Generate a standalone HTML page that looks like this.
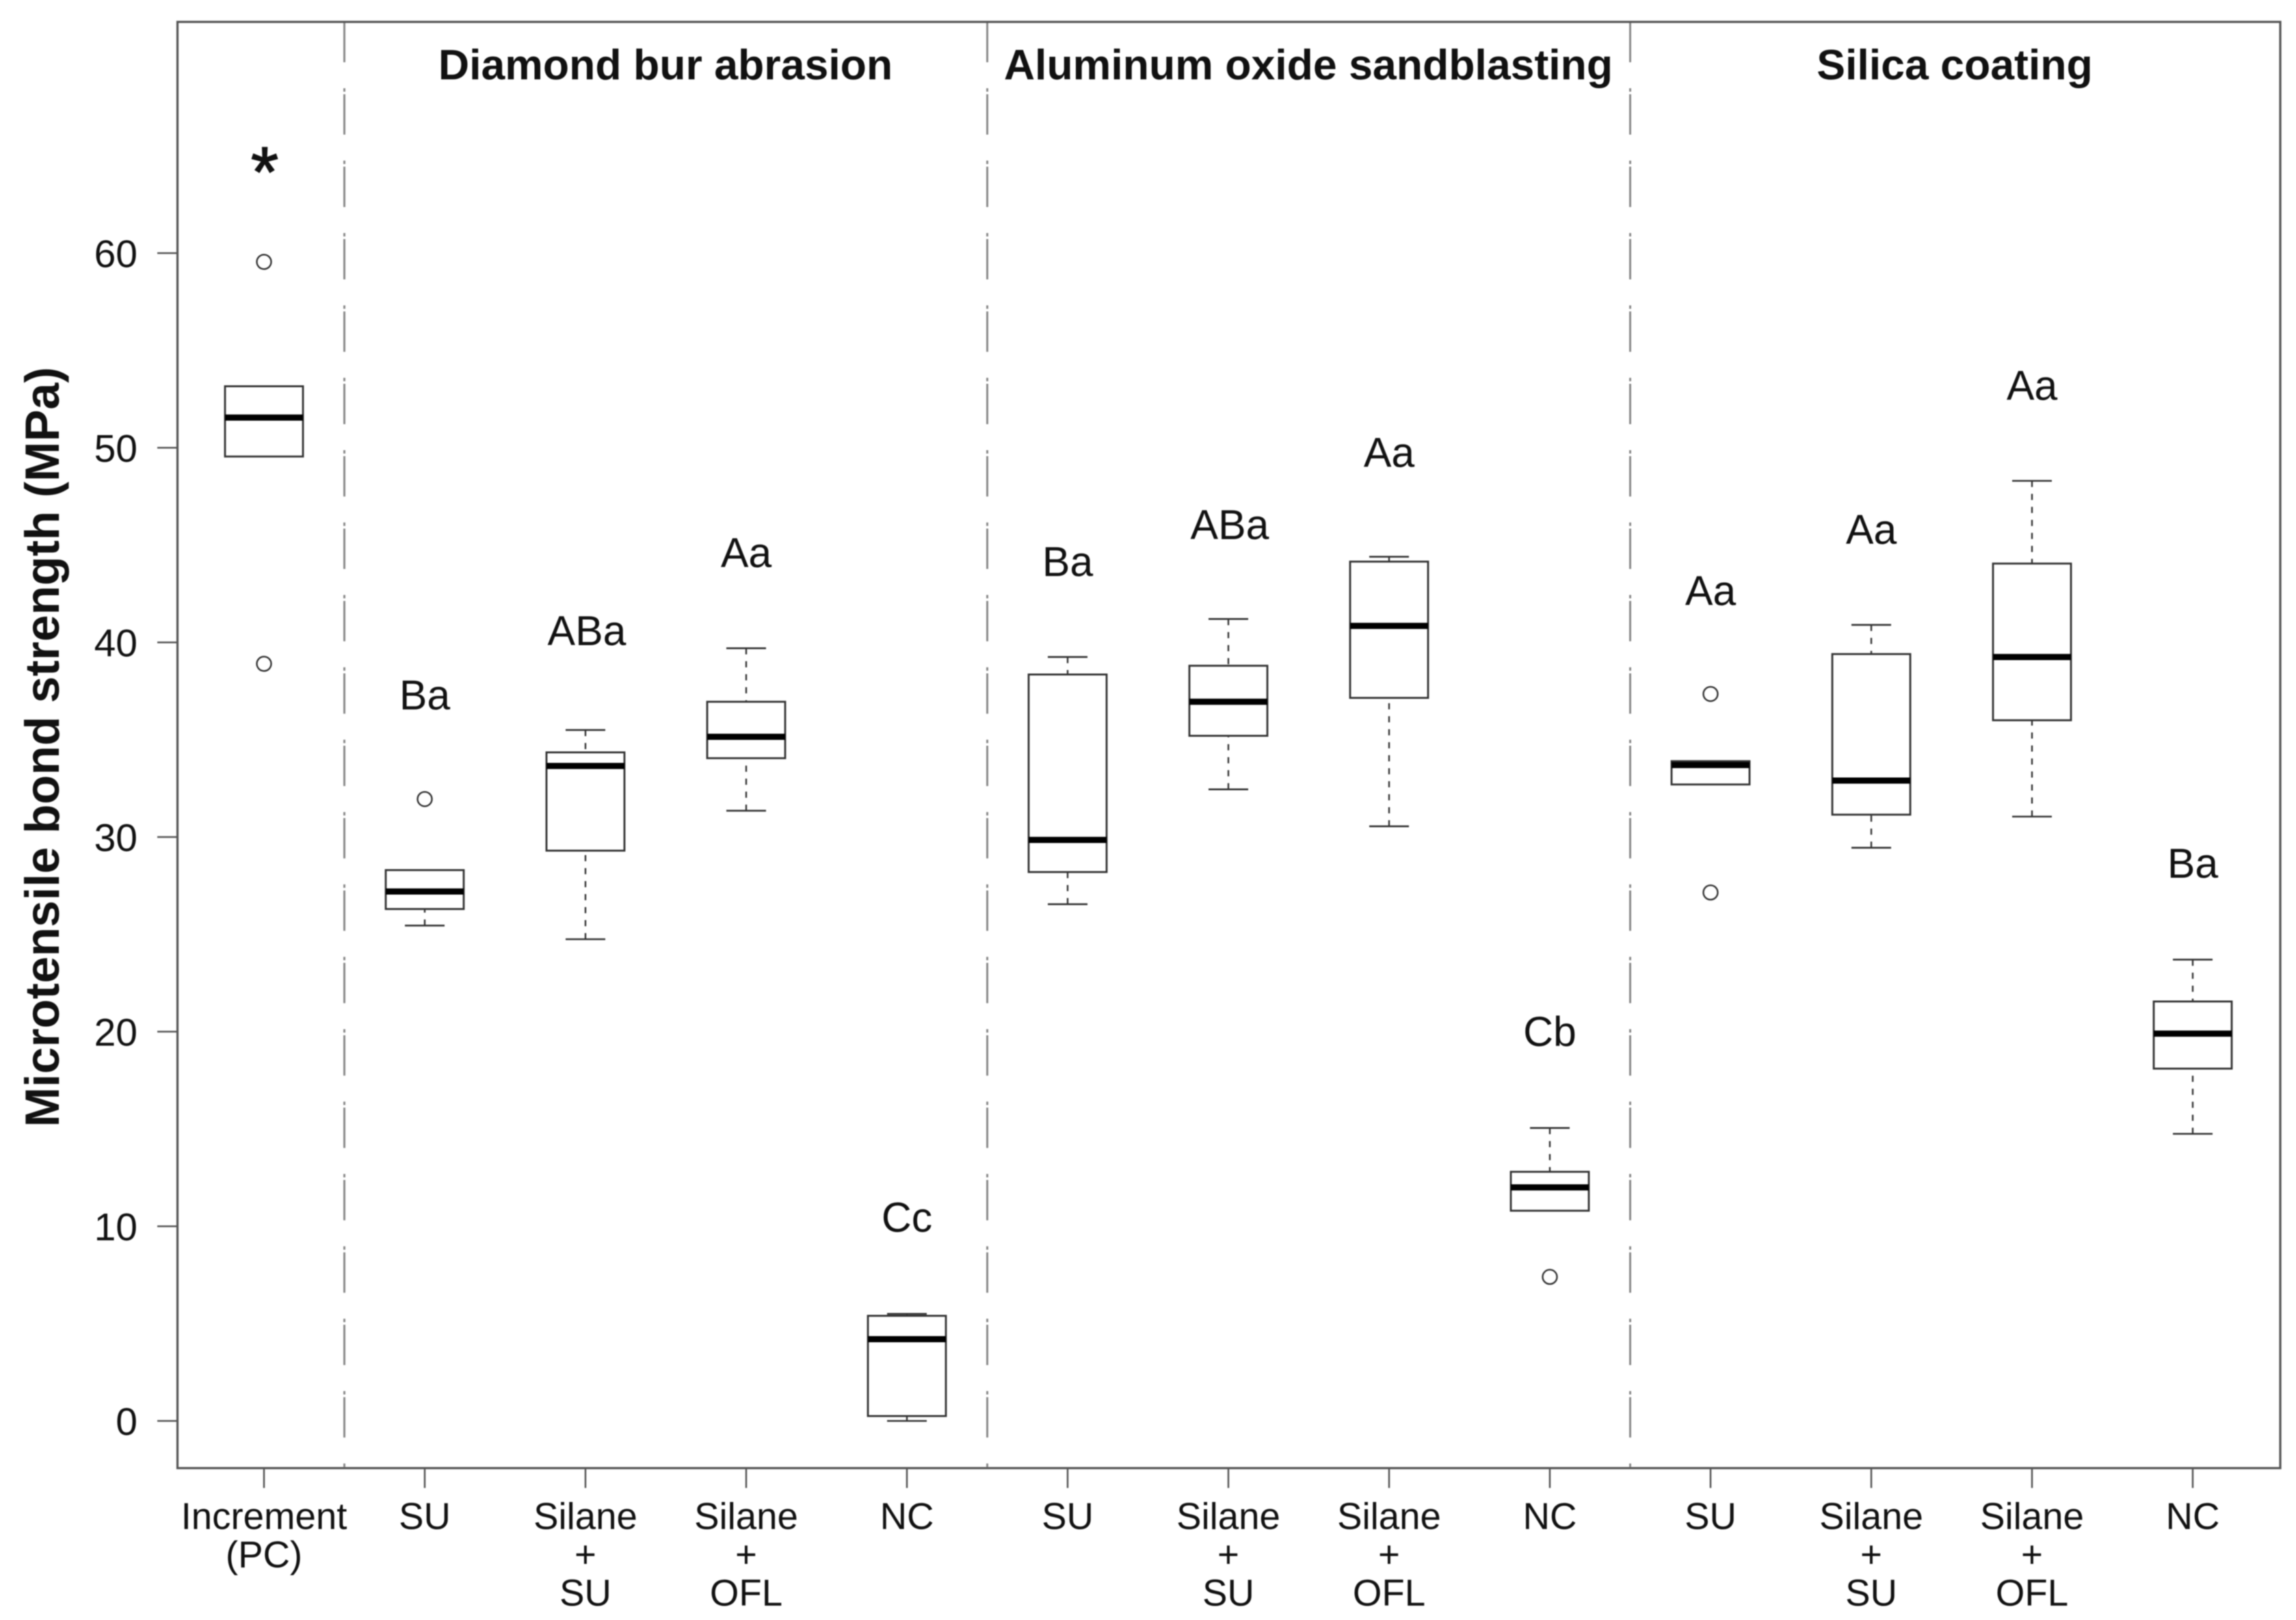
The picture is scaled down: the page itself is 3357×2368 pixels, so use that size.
<!DOCTYPE html>
<html lang="en">
<head>
<meta charset="utf-8">
<title>Microtensile bond strength boxplot</title>
<style>
html,body{margin:0;padding:0;background:#fff;}
svg{display:block;filter:blur(0.7px);}
text{font-family:"Liberation Sans",Arial,sans-serif;fill:#111111;}
</style>
</head>
<body>
<svg id="chart" xmlns="http://www.w3.org/2000/svg" width="3357" height="2368" viewBox="0 0 3357 2368">
<rect x="0" y="0" width="3357" height="2368" fill="#ffffff"/>
<text transform="translate(86 1092) rotate(-90)" text-anchor="middle" font-size="70.2" font-weight="700">Microtensile bond strength (MPa)</text>
<text x="973" y="116" text-anchor="middle" font-size="62.6" font-weight="700">Diamond bur abrasion</text>
<text x="1913" y="116" text-anchor="middle" font-size="62.6" font-weight="700">Aluminum oxide sandblasting</text>
<text x="2858" y="116" text-anchor="middle" font-size="62.6" font-weight="700">Silica coating</text>
</svg>
<script>
// ---- chart data ----
const categories = [
  ["Increment", "(PC)"],
  ["SU"], ["Silane", "+", "SU"], ["Silane", "+", "OFL"], ["NC"],
  ["SU"], ["Silane", "+", "SU"], ["Silane", "+", "OFL"], ["NC"],
  ["SU"], ["Silane", "+", "SU"], ["Silane", "+", "OFL"], ["NC"]
];
const q1Values      = [49.55, 26.3, 29.3, 34.05, 0.25, 28.2, 35.2, 37.15, 10.8, 32.7, 31.15, 36.0, 18.1];
const medianValues  = [51.55, 27.2, 33.65, 35.15, 4.2, 29.85, 36.95, 40.85, 12.0, 33.7, 32.9, 39.25, 19.9];
const q3Values      = [53.16, 28.3, 34.35, 36.95, 5.4, 38.35, 38.8, 44.15, 12.8, 33.9, 39.4, 44.05, 21.55];
const whiskerLow    = [49.55, 25.45, 24.75, 31.35, 0.0, 26.55, 32.45, 30.55, 10.8, 32.7, 29.45, 31.05, 14.75];
const whiskerHigh   = [53.16, 28.3, 35.5, 39.7, 5.5, 39.25, 41.2, 44.4, 15.05, 33.9, 40.9, 48.3, 23.7];
const outlierValues = [[59.55, 38.9], [31.95], [], [], [], [], [], [], [7.4], [37.35, 27.15], [], [], []];
const significanceLetters = ["", "Ba", "ABa", "Aa", "Cc", "Ba", "ABa", "Aa", "Cb", "Aa", "Aa", "Aa", "Ba"];
const significanceHeights = [0, 37.3, 40.6, 44.6, 10.45, 44.15, 46.05, 49.75, 20.0, 42.65, 45.8, 53.2, 28.65];
const yTickLabels = [0, 10, 20, 30, 40, 50, 60];
const groupDividers = [0.5, 4.5, 8.5];

// ---- axis functions ----
const SVG_NS = "http://www.w3.org/2000/svg";
const svg = document.getElementById("chart");
const plot = {left: 259.5, right: 3334, top: 32, bottom: 2146};
const xAxis = function (index) { return 386 + 235 * index; };
const yAxis = function (value) { return 2077 - 28.45 * value; };
const BOX_W = 114, CAP_W = 58, INK = "#333333", AXIS = "#555555";

function make(tag, attrs) {
  const node = document.createElementNS(SVG_NS, tag);
  for (const key in attrs) node.setAttribute(key, attrs[key]);
  svg.appendChild(node);
  return node;
}
function line(x1, y1, x2, y2, color, width, dash) {
  const node = make("line", {x1: x1, y1: y1, x2: x2, y2: y2, stroke: color, "stroke-width": width});
  if (dash) node.setAttribute("stroke-dasharray", dash);
  return node;
}

// group dividers (long dash + tiny dot)
groupDividers.forEach(function (pos) {
  const el = line(xAxis(pos), plot.top, xAxis(pos), plot.bottom, "#8a8a8a", 3, "59 38 5 3.8");
  
  
});

// plot frame
const frame = make("rect", {x: plot.left, y: plot.top, width: plot.right - plot.left, height: plot.bottom - plot.top, fill: "none", stroke: AXIS, "stroke-width": 3.2});



// y axis
yTickLabels.forEach(function (value) {
  const tick = line(230, yAxis(value), plot.left, yAxis(value), AXIS, 2.5);
  
  
  const label = make("text", {x: 201, y: yAxis(value) + 20.5, "text-anchor": "end", "font-size": 57});
  label.textContent = String(value);
  
  
});

// x axis
categories.forEach(function (lines, i) {
  const tick = line(xAxis(i), plot.bottom, xAxis(i), plot.bottom + 29, AXIS, 2.5);
  
  
  lines.forEach(function (txt, n) {
    const label = make("text", {x: xAxis(i), y: 2235 + 56 * n, "text-anchor": "middle", "font-size": 54.6});
    label.textContent = txt;
    
    
  });
});

// boxes
categories.forEach(function (lines, i) {
  const cx = xAxis(i);
  if (whiskerHigh[i] > q3Values[i]) {
    const up = line(cx, yAxis(whiskerHigh[i]), cx, yAxis(q3Values[i]), INK, 2.4, "9 10");
    
    
    const capUp = line(cx - CAP_W / 2, yAxis(whiskerHigh[i]), cx + CAP_W / 2, yAxis(whiskerHigh[i]), INK, 2.6);
    
    
  }
  if (whiskerLow[i] < q1Values[i]) {
    const down = line(cx, yAxis(whiskerLow[i]), cx, yAxis(q1Values[i]), INK, 2.4, "9 10");
    
    
    const capDown = line(cx - CAP_W / 2, yAxis(whiskerLow[i]), cx + CAP_W / 2, yAxis(whiskerLow[i]), INK, 2.6);
    
    
  }
  const box = make("rect", {x: cx - BOX_W / 2, y: yAxis(q3Values[i]), width: BOX_W, height: yAxis(q1Values[i]) - yAxis(q3Values[i]), fill: "#ffffff", stroke: INK, "stroke-width": 2.8});
  
  
  const med = line(cx - BOX_W / 2, yAxis(medianValues[i]), cx + BOX_W / 2, yAxis(medianValues[i]), "#000000", 9);
  
  
  outlierValues[i].forEach(function (value) {
    const dot = make("circle", {cx: cx, cy: yAxis(value), r: 10.5, fill: "none", stroke: INK, "stroke-width": 2.4});
    
    
  });
  if (significanceLetters[i]) {
    const sig = make("text", {x: cx + (significanceLetters[i] === "ABa" ? 2 : 0), y: yAxis(significanceHeights[i]) + 21, "text-anchor": "middle", "font-size": 60.8});
    sig.textContent = significanceLetters[i];
    
    
  }
});

// asterisk over the positive control
const star = make("text", {x: xAxis(0) + 1, y: 287, "text-anchor": "middle", "font-size": 104, "stroke": "#111111", "stroke-width": 1.5});
star.textContent = "*";


</script>
</body>
</html>
